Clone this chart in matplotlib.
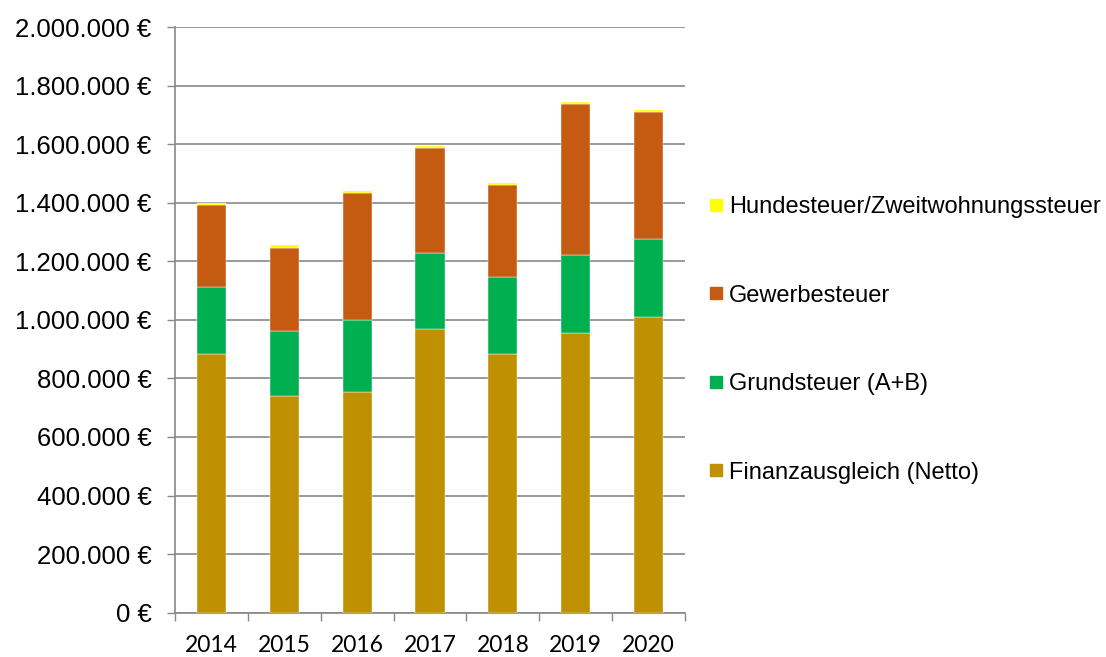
import matplotlib
matplotlib.use('Agg')
import matplotlib.pyplot as plt
import matplotlib.patches as mpatches
import numpy as np

# values (in euro)
years = ['2014', '2015', '2016', '2017', '2018', '2019', '2020']
finanzausgleich = [882000, 739000, 752000, 969000, 882000, 956000, 1011000]
grundsteuer = [231000, 224000, 246000, 259000, 266000, 266000, 265000]
gewerbesteuer = [278000, 284000, 435000, 360000, 311000, 516000, 435000]
hundesteuer = [9000, 10000, 7000, 7000, 8000, 7000, 7000]

series = [
    ('Finanzausgleich (Netto)', finanzausgleich, '#BF9000'),
    ('Grundsteuer (A+B)', grundsteuer, '#00B050'),
    ('Gewerbesteuer', gewerbesteuer, '#C55A11'),
    ('Hundesteuer/Zweitwohnungssteuer', hundesteuer, '#FFFF00'),
]

grid_col = '#888888'

fig = plt.figure(figsize=(11.06, 6.57), dpi=100)
ax = fig.add_axes([175 / 1106, 1 - 612.7 / 657, 510 / 1106, 585.7 / 657])

x = np.arange(len(years))
bottom = np.zeros(len(years))
for label, vals, col in series:
    ax.bar(x, vals, width=0.4, bottom=bottom, color=col, label=label,
           edgecolor='white', linewidth=0.3, zorder=3)
    bottom += np.array(vals)

ax.set_xlim(-0.5, len(years) - 0.5)
ax.set_ylim(0, 2000000)
yt = np.arange(0, 2000001, 200000)
ax.set_yticks(yt)
ax.set_yticklabels(['{:,.0f} €'.format(v).replace(',', '.') for v in yt],
                   fontsize=18.5, family='Liberation Sans')
ax.yaxis.grid(True, color=grid_col, linewidth=1.2, zorder=0)
ax.tick_params(axis='y', length=6, width=1, color=grid_col, pad=11)

ax.set_xticks(x)
ax.set_xticklabels(years, fontsize=16.5, family='Lato')
ax.set_xticks(np.arange(-0.5, len(years)), minor=True)
ax.tick_params(axis='x', which='major', length=0, pad=16)
ax.tick_params(axis='x', which='minor', length=6, width=1, color=grid_col)

for s in ['top', 'right']:
    ax.spines[s].set_visible(False)
for s in ['left', 'bottom']:
    ax.spines[s].set_color(grid_col)
    ax.spines[s].set_linewidth(1.2)

handles = [mpatches.Patch(color=c, label=l) for l, _, c in series][::-1]
fig.legend(handles=handles, loc='center left',
           bbox_to_anchor=(710 / 1106, 1 - 340 / 657),
           frameon=False, prop={'family': 'Liberation Sans', 'size': 17},
           handlelength=0.5, handleheight=0.4, handletextpad=0.3,
           labelspacing=2.82, borderpad=0, borderaxespad=0)

fig.savefig('out.png', dpi=100)
